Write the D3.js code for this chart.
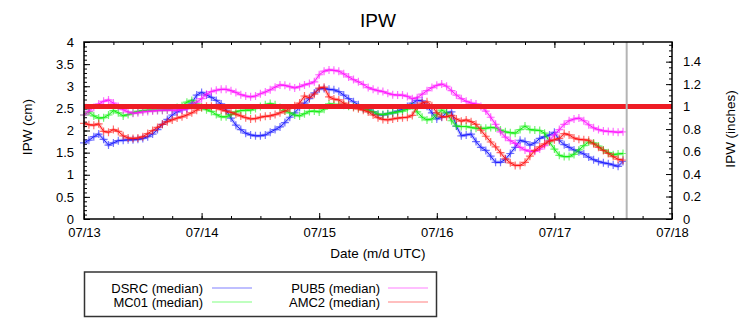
<!DOCTYPE html>
<html>
<head>
<meta charset="utf-8">
<script src="https://cdn.jsdelivr.net/npm/d3@7"></script>
<style>
  body { margin: 0; background: #fff; }
  text { font-family: "Liberation Sans", Arial, Helvetica, sans-serif; fill: #000; }
</style>
</head>
<body>
<svg id="chart" width="756" height="324"></svg>
<script>
// hourly medians (cm), starting 07/13 00 UTC
const startTime = new Date(Date.UTC(2015, 6, 13, 0));
const endTime = new Date(Date.UTC(2015, 6, 18, 0));
const lastObs = new Date(Date.UTC(2015, 6, 17, 14, 45));

const dayTicks = ["07/13", "07/14", "07/15", "07/16", "07/17", "07/18"];
const cmTicks = [0, 0.5, 1, 1.5, 2, 2.5, 3, 3.5, 4];
const inchTicks = [0, 0.2, 0.4, 0.6, 0.8, 1, 1.2, 1.4];
const thresholdCm = 2.54;

const seriesNames = ["DSRC (median)", "MC01 (median)", "PUB5 (median)", "AMC2 (median)"];
const seriesColors = ["#1a1aff", "#11ee11", "#ff11ff", "#ff1111"];
const legendColors = ["#aaaaff", "#aaffaa", "#ffaaff", "#ffaaaa"];

const dsrc = [1.72, 1.78, 1.86, 1.92, 1.80, 1.67, 1.72, 1.77, 1.78, 1.79,
  1.79, 1.80, 1.82, 1.86, 1.92, 2.02, 2.14, 2.25, 2.35, 2.42,
  2.47, 2.50, 2.62, 2.80, 2.86, 2.80, 2.75, 2.68, 2.60, 2.46,
  2.28, 2.12, 2.02, 1.94, 1.90, 1.88, 1.88, 1.90, 1.96, 2.02,
  2.08, 2.18, 2.30, 2.40, 2.52, 2.62, 2.72, 2.85, 2.94, 2.95,
  2.93, 2.92, 2.88, 2.80, 2.72, 2.65, 2.58, 2.50, 2.47, 2.42,
  2.36, 2.35, 2.38, 2.40, 2.44, 2.48, 2.54, 2.62, 2.68, 2.67,
  2.55, 2.40, 2.26, 2.30, 2.40, 2.42, 2.10, 1.88, 1.90, 1.92,
  1.75, 1.62, 1.55, 1.42, 1.28, 1.28, 1.35, 1.48, 1.62, 1.78,
  1.75, 1.67, 1.72, 1.82, 1.86, 1.90, 1.96, 1.78, 1.68, 1.62,
  1.56, 1.52, 1.47, 1.40, 1.34, 1.30, 1.27, 1.25, 1.22, 1.19, 1.30];

const mc01 = [2.35, 2.42, 2.33, 2.28, 2.29, 2.35, 2.45, 2.40, 2.33, 2.36,
  2.40, 2.43, 2.45, 2.46, 2.46, 2.46, 2.46, 2.47, 2.49, 2.52,
  2.56, 2.64, 2.68, 2.60, 2.52, 2.47, 2.43, 2.36, 2.31, 2.31,
  2.36, 2.42, 2.45, 2.46, 2.46, 2.50, 2.54, 2.58, 2.61, 2.58,
  2.52, 2.45, 2.40, 2.35, 2.33, 2.38, 2.43, 2.44, 2.42, 2.48,
  2.60, 2.59, 2.58, 2.57, 2.55, 2.54, 2.52, 2.50, 2.46, 2.42,
  2.37, 2.36, 2.38, 2.40, 2.42, 2.44, 2.48, 2.56, 2.42, 2.30,
  2.24, 2.26, 2.36, 2.46, 2.40, 2.22, 2.10, 2.09, 2.09, 2.07,
  2.05, 2.05, 2.05, 2.07, 2.06, 2.01, 1.97, 1.95, 1.94, 2.02,
  2.10, 2.02, 2.01, 2.00, 1.94, 1.74, 1.58, 1.44, 1.41, 1.41,
  1.46, 1.56, 1.66, 1.74, 1.72, 1.65, 1.56, 1.50, 1.45, 1.47, 1.48];

const pub5 = [2.35, 2.44, 2.52, 2.60, 2.66, 2.69, 2.62, 2.54, 2.47, 2.42,
  2.39, 2.40, 2.42, 2.43, 2.44, 2.45, 2.46, 2.46, 2.46, 2.46,
  2.47, 2.49, 2.58, 2.64, 2.72, 2.82, 2.88, 2.91, 2.93, 2.93,
  2.90, 2.86, 2.81, 2.78, 2.76, 2.78, 2.83, 2.87, 2.92, 2.98,
  3.03, 3.02, 2.99, 2.96, 2.99, 3.03, 3.06, 3.10, 3.26, 3.34,
  3.37, 3.36, 3.34, 3.28, 3.21, 3.15, 3.10, 3.04, 2.97, 2.93,
  2.90, 2.88, 2.84, 2.81, 2.80, 2.80, 2.77, 2.72, 2.74, 2.82,
  2.90, 2.97, 3.02, 3.05, 3.00, 2.90, 2.80, 2.72, 2.66, 2.62,
  2.60, 2.54, 2.44, 2.30, 2.14, 1.97, 1.85, 1.77, 1.71, 1.62,
  1.56, 1.53, 1.53, 1.58, 1.66, 1.78, 1.90, 2.02, 2.14, 2.22,
  2.26, 2.28, 2.22, 2.13, 2.06, 2.02, 1.99, 1.98, 1.97, 1.96, 1.97];

const amc2 = [2.16, 2.13, 2.12, 2.15, 1.98, 1.96, 2.02, 1.98, 1.88, 1.83,
  1.82, 1.83, 1.86, 1.93, 2.00, 2.07, 2.14, 2.20, 2.24, 2.28,
  2.31, 2.35, 2.40, 2.46, 2.52, 2.55, 2.55, 2.52, 2.47, 2.44,
  2.41, 2.37, 2.33, 2.29, 2.26, 2.27, 2.30, 2.32, 2.33, 2.36,
  2.40, 2.44, 2.50, 2.56, 2.62, 2.78, 2.74, 2.82, 2.96, 2.98,
  2.76, 2.71, 2.69, 2.62, 2.57, 2.52, 2.49, 2.46, 2.42, 2.35,
  2.29, 2.25, 2.24, 2.26, 2.28, 2.29, 2.30, 2.34, 2.55, 2.62,
  2.65, 2.56, 2.40, 2.31, 2.31, 2.34, 2.26, 2.21, 2.24, 2.20,
  2.14, 2.01, 1.87, 1.74, 1.63, 1.50, 1.36, 1.27, 1.21, 1.21,
  1.28, 1.42, 1.55, 1.63, 1.70, 1.76, 1.79, 1.82, 1.93, 1.90,
  1.83, 1.80, 1.79, 1.78, 1.70, 1.62, 1.55, 1.48, 1.41, 1.35, 1.33];

const seriesValues = [dsrc, mc01, pub5, amc2];

const svg = d3.select("#chart");
const plot = { left: 84, right: 672, top: 42, bottom: 219 };

const x = d3.scaleUtc().domain([startTime, endTime]).range([plot.left, plot.right]);
const y = d3.scaleLinear().domain([0, 4]).range([plot.bottom, plot.top]);
const yIn = d3.scaleLinear().domain([0, 4 / 2.54]).range([plot.bottom, plot.top]);

// title and axis titles
svg.append("text").attr("x", 378).attr("y", 27).attr("text-anchor", "middle")
  .style("font-size", "19px").text("IPW");
svg.append("text").attr("transform", "translate(32,127) rotate(-90)")
  .attr("text-anchor", "middle").style("font-size", "13.5px").text("IPW (cm)");
svg.append("text").attr("transform", "translate(735,129) rotate(-90)")
  .attr("text-anchor", "middle").style("font-size", "13.5px").text("IPW (inches)");
svg.append("text").attr("x", 378).attr("y", 258).attr("text-anchor", "middle")
  .style("font-size", "13.5px").text("Date (m/d UTC)");

// axes with inward ticks
const dayDates = d3.utcDay.range(startTime, d3.utcHour.offset(endTime, 1));
const sixHours = d3.utcHour.every(6).range(startTime, endTime);

function styleAxis(g) {
  g.select(".domain").remove();
  g.selectAll("line").attr("stroke", "#000");
  g.selectAll("text").style("font-size", "13px").style("font-family", "'Liberation Sans', Arial, sans-serif");
}

svg.append("g").attr("transform", `translate(0,${plot.bottom})`)
  .call(d3.axisBottom(x).tickValues(sixHours).tickSize(-3).tickFormat(""))
  .call(styleAxis);
svg.append("g").attr("transform", `translate(0,${plot.bottom})`)
  .call(d3.axisBottom(x).tickValues(dayDates).tickSize(-6).tickPadding(9)
    .tickFormat((d, i) => dayTicks[i]))
  .call(styleAxis);
svg.append("g").attr("transform", `translate(0,${plot.top})`)
  .call(d3.axisTop(x).tickValues(sixHours).tickSize(-3).tickFormat(""))
  .call(styleAxis);
svg.append("g").attr("transform", `translate(0,${plot.top})`)
  .call(d3.axisTop(x).tickValues(dayDates).tickSize(-6).tickFormat(""))
  .call(styleAxis);

svg.append("g").attr("transform", `translate(${plot.left},0)`)
  .call(d3.axisLeft(y).tickValues(d3.range(0, 4.001, 0.1)).tickSize(-3).tickFormat(""))
  .call(styleAxis);
svg.append("g").attr("transform", `translate(${plot.left},0)`)
  .call(d3.axisLeft(y).tickValues(cmTicks).tickSize(-6).tickPadding(10).tickFormat(d3.format("")))
  .call(styleAxis);

svg.append("g").attr("transform", `translate(${plot.right},0)`)
  .call(d3.axisRight(yIn).tickValues(d3.range(0, 1.576, 0.05)).tickSize(-3).tickFormat(""))
  .call(styleAxis);
svg.append("g").attr("transform", `translate(${plot.right},0)`)
  .call(d3.axisRight(yIn).tickValues(inchTicks).tickSize(-6).tickPadding(11).tickFormat(d3.format("")))
  .call(styleAxis);

// series: soft halo, "+" markers, thin core line
const line = d3.line()
  .x((d, i) => x(d3.utcHour.offset(startTime, i)))
  .y(d => y(d));

const cross = "M-4,0H4M0,-4V4";

seriesValues.forEach((vals, k) => {
  const g = svg.append("g");
  g.append("path").datum(vals).attr("d", line)
    .attr("fill", "none").attr("stroke", seriesColors[k])
    .attr("stroke-opacity", 0.25).attr("stroke-width", 3.5);
  g.selectAll("path.pt").data(vals).enter().append("path")
    .attr("class", "pt")
    .attr("transform", (d, i) => `translate(${x(d3.utcHour.offset(startTime, i))},${y(d)})`)
    .attr("d", cross)
    .attr("stroke", seriesColors[k]).attr("stroke-opacity", 0.6).attr("stroke-width", 1.2);
  g.append("path").datum(vals).attr("d", line)
    .attr("fill", "none").attr("stroke", seriesColors[k]).attr("stroke-width", 1);
});

// 1 inch reference line
svg.append("line")
  .attr("x1", plot.left).attr("x2", plot.right)
  .attr("y1", y(thresholdCm)).attr("y2", y(thresholdCm))
  .attr("stroke", "#ee1c24").attr("stroke-width", 5);

// time of latest observation
svg.append("line")
  .attr("x1", x(lastObs)).attr("x2", x(lastObs))
  .attr("y1", plot.top).attr("y2", plot.bottom)
  .attr("stroke", "#b4b4b4").attr("stroke-width", 2);

// plot frame
svg.append("rect")
  .attr("x", plot.left).attr("y", plot.top)
  .attr("width", plot.right - plot.left).attr("height", plot.bottom - plot.top)
  .attr("fill", "none").attr("stroke", "#000").attr("stroke-width", 1.5);

// legend
const legend = svg.append("g");
legend.append("rect").attr("x", 84.5).attr("y", 272).attr("width", 352).attr("height", 44.5)
  .attr("fill", "none").attr("stroke", "#333").attr("stroke-width", 1.5);
const legendPos = [
  { tx: 203, lx: 212, y: 288 },
  { tx: 203, lx: 212, y: 302 },
  { tx: 380, lx: 388, y: 288 },
  { tx: 380, lx: 388, y: 302 }
];
seriesNames.forEach((name, k) => {
  const p = legendPos[k];
  legend.append("text").attr("x", p.tx).attr("y", p.y + 4.5)
    .attr("text-anchor", "end").style("font-size", "13px").text(name);
  legend.append("line").attr("x1", p.lx).attr("x2", p.lx + 40)
    .attr("y1", p.y).attr("y2", p.y)
    .attr("stroke", legendColors[k]).attr("stroke-width", 1.5);
});
</script>
</body>
</html>
